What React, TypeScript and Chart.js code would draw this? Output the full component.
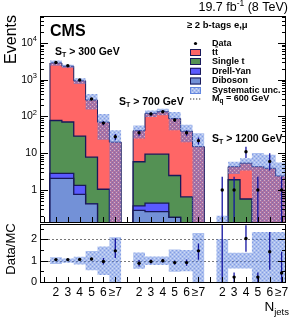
import React, { useEffect, useRef } from 'react';
import { Chart, registerables } from 'chart.js';
Chart.register(...registerables);

// ---------------- data (18 bins: 3 S_T regions x 6 jet bins) ----------------
const jetLabels = ['2', '3', '4', '5', '6', '≥7'];
const regionCuts = ['300', '700', '1200'];
const regionLabelPos = [[55, 52], [119, 102], [212, 139]];

const dataObs = [2950, 2400, 980, 300, 66, 28, 36, 117, 135, 80, 36, 22, 1, 1, 11, 1, 6, 1];
const dataErrLo = [54, 49, 31, 17, 8, 5.3, 6, 11, 11.6, 9, 6, 4.7, 1, 1, 3.6, 1, 2.6, 1];
const dataErrHi = [54, 49, 31, 17, 8, 5.3, 6, 11, 11.6, 9, 6, 4.7, 1.3, 1.3, 4, 1.3, 4, 1.3];

const ttbar = [2770, 2250, 900, 272, 69, 20, 35, 112, 125, 85, 39, 15, 0.1, 2.4, 4.8, 4.2, 3.8, 2.35];
const singleTop = [75, 68, 28, 7.4, 1.05, 0.1, 5.5, 9, 9, 2.3, 0.6, 0.1, 0, 1.9, 0.57, 0.1, 0.1, 0.05];
const drellYan = [0.76, 0.76, 0.58, 0, 0, 0, 0.09, 0.18, 0.18, 0, 0, 0, 0, 0, 0, 0, 0, 0];
const diboson = [2.08, 2.08, 0.76, 0.42, 0, 0, 0.28, 0.26, 0.26, 0.18, 0.05, 0, 0, 0, 0, 0, 0, 0];
const sysRel = [0.16, 0.1, 0.18, 0.45, 0.67, 1.1, 0.38, 0.2, 0.2, 0.52, 0.5, 1.3, 1.0, 0.37, 0.37, 1.35, 1.35, 1.35];

const ratioVals = [1.05, 1.05, 1.06, 1.08, 0.96, 1.46, 0.88, 0.96, 1.0, 0.91, 0.91, 1.46, 10, 0.23, 2.04, 0.23, 1.42, 0.42];
const ratioErrLo = [0.02, 0.02, 0.03, 0.06, 0.14, 0.34, 0.15, 0.09, 0.09, 0.1, 0.15, 0.42, 10, 0.23, 0.62, 0.23, 0.85, 0.42];
const ratioErrHi = [0.02, 0.02, 0.03, 0.06, 0.16, 0.59, 0.15, 0.09, 0.09, 0.1, 0.15, 0.35, 13, 0.22, 0.62, 0.22, 0.93, 1.0];

const yDecades = [0, 1, 2, 3, 4];
const ratioTicks = [0, 1, 2];
const legendLabels = ['Data', 'tt', 'Single t', 'Drell-Yan', 'Diboson', 'Systematic unc.', ' = 600 GeV'];

// ---------------- style ----------------
const C_TT = 'rgb(255,102,102)';
const C_ST = 'rgb(84,145,84)';
const C_DY = 'rgb(90,90,255)';
const C_DB = 'rgb(115,145,215)';
const C_LINE = 'rgb(25,25,90)';
const C_ERR = 'rgb(20,20,160)';
const FONT = '"Liberation Sans", Arial, Helvetica, sans-serif';

const FLOOR = 1e-3;
const X_MIN = -0.84, X_MAX = 19.87;
const Y_MIN = 0.135, Y_MAX = 54000;
const R_MIN = 0, R_MAX = 2.72;

const NB = dataObs.length;
const binLeft = (i: number) => Math.floor(i / 6) * 7 + (i % 6);
const cum = (...arrs: number[][]) => arrs[0].map((_, i) => arrs.reduce((s, a) => s + a[i], 0));

const cDB = diboson;
const cDY = cum(diboson, drellYan);
const cST = cum(diboson, drellYan, singleTop);
const cTT = cum(diboson, drellYan, singleTop, ttbar);

function histPoints(vals: number[]) {
  const pts: any[] = [];
  for (let g = 0; g < 3; g++) {
    const s = g * 7;
    pts.push({ x: s, y: FLOOR });
    for (let j = 0; j < 6; j++) {
      const i = g * 6 + j;
      pts.push({ x: binLeft(i), y: Math.max(vals[i], FLOOR) });
    }
    pts.push({ x: s + 6, y: Math.max(vals[g * 6 + 5], FLOOR) });
    pts.push({ x: s + 6, y: FLOOR });
    pts.push({ x: s + 6.5, y: null });
  }
  return pts;
}
function stepPoints(vals: number[], floor: number) {
  const pts: any[] = [];
  for (let g = 0; g < 3; g++) {
    const s = g * 7;
    for (let j = 0; j < 6; j++) {
      const i = g * 6 + j;
      pts.push({ x: binLeft(i), y: Math.max(vals[i], floor) });
    }
    pts.push({ x: s + 6, y: Math.max(vals[g * 6 + 5], floor) });
    pts.push({ x: s + 6.5, y: null });
  }
  return pts;
}
function errPoints(vals: number[], lo: number[], hi: number[], floor: number) {
  const pts: any[] = [];
  for (let i = 0; i < NB; i++) {
    const c = binLeft(i) + 0.5;
    pts.push({ x: c, y: Math.max(vals[i] - lo[i], floor) });
    pts.push({ x: c, y: vals[i] + hi[i] });
    pts.push({ x: c, y: null });
  }
  return pts;
}
const centerPoints = (vals: number[]) => vals.map((v, i) => ({ x: binLeft(i) + 0.5, y: v }));

function makePattern(): CanvasPattern | string {
  const c = document.createElement('canvas');
  c.width = 4; c.height = 4;
  const p = c.getContext('2d');
  if (!p) return 'rgba(90,130,225,0.5)';
  p.fillStyle = 'rgba(85,125,222,0.5)';
  p.fillRect(0, 0, 4, 4);
  p.fillStyle = 'rgba(255,255,255,0.45)';
  p.fillRect(0, 0, 1, 1); p.fillRect(2, 2, 1, 1);
  p.fillStyle = 'rgba(60,95,210,0.35)';
  p.fillRect(2, 0, 1, 1); p.fillRect(0, 2, 1, 1);
  return p.createPattern(c, 'repeat') || 'rgba(90,130,225,0.5)';
}

type Part = { t: string; f: string; dy?: number };
function drawParts(ctx: CanvasRenderingContext2D, parts: Part[], x: number, y: number, align: 'left' | 'right' | 'center') {
  let w = 0;
  for (const p of parts) { ctx.font = p.f; w += ctx.measureText(p.t).width; }
  let cx = align === 'left' ? x : align === 'right' ? x - w : x - w / 2;
  ctx.textAlign = 'left';
  ctx.textBaseline = 'middle';
  for (const p of parts) {
    ctx.font = p.f;
    ctx.fillText(p.t, cx, y + (p.dy || 0));
    cx += ctx.measureText(p.t).width;
  }
  return w;
}

function lineDs(pts: any[], bg: any, border: string, bw: number, order: number, fill: any) {
  return {
    data: pts, backgroundColor: bg, borderColor: border, borderWidth: bw, order, fill,
    stepped: 'before', pointRadius: 0, spanGaps: false, tension: 0,
    borderJoinStyle: 'miter', borderCapStyle: 'butt',
  };
}

// ---------------- plugins ----------------
const mainDeco = {
  id: 'mainDeco',
  afterDraw(chart: any) {
    const ctx: CanvasRenderingContext2D = chart.ctx;
    const { left, right, top, bottom } = chart.chartArea;
    const xs = chart.scales.x, ys = chart.scales.y;
    ctx.save();
    ctx.strokeStyle = '#000';
    ctx.lineWidth = 1;
    ctx.strokeRect(left + 0.5, top + 0.5, right - left - 1, bottom - top);
    ctx.beginPath();
    for (let d = -1; d <= 4; d++) {
      for (let k = 1; k <= 9; k++) {
        const v = k * Math.pow(10, d);
        if (v < Y_MIN || v > Y_MAX) continue;
        const py = Math.round(ys.getPixelForValue(v)) + 0.5;
        const len = k === 1 ? 8 : 4;
        ctx.moveTo(left, py); ctx.lineTo(left + len, py);
        ctx.moveTo(right, py); ctx.lineTo(right - len, py);
      }
    }
    for (let k = -1; k <= 20; k++) {
      const xv = k + 0.5;
      if (xv < X_MIN || xv > X_MAX) continue;
      const px = Math.round(xs.getPixelForValue(xv)) + 0.5;
      ctx.moveTo(px, bottom); ctx.lineTo(px, bottom - 5);
    }
    ctx.stroke();

    ctx.fillStyle = '#000';
    // y tick labels
    for (const d of yDecades) {
      const py = ys.getPixelForValue(Math.pow(10, d));
      const f = `10.5px ${FONT}`;
      if (d === 0) drawParts(ctx, [{ t: '1', f }], 37, py, 'right');
      else if (d === 1) drawParts(ctx, [{ t: '10', f }], 37, py, 'right');
      else drawParts(ctx, [{ t: '10', f }, { t: String(d), f: `7.5px ${FONT}`, dy: -4 }], 37, py, 'right');
    }
    // Events title
    ctx.save();
    ctx.translate(12, 15);
    ctx.rotate(-Math.PI / 2);
    ctx.font = `16px ${FONT}`;
    ctx.textAlign = 'right';
    ctx.textBaseline = 'middle';
    ctx.fillText('Events', 0, 0);
    ctx.restore();

    // lumi
    drawParts(ctx, [
      { t: '19.7 fb', f: `12.5px ${FONT}` },
      { t: '-1', f: `8.5px ${FONT}`, dy: -4 },
      { t: ' (8 TeV)', f: `12.5px ${FONT}` },
    ], 288, 8, 'right');
    // CMS
    drawParts(ctx, [{ t: 'CMS', f: `bold 16px ${FONT}` }], 50, 32, 'left');
    // category
    drawParts(ctx, [{ t: '≥ 2 b-tags e,μ', f: `bold 9.5px ${FONT}` }], 187, 25, 'left');
    // region labels
    regionCuts.forEach((cut, g) => {
      const [x, y] = regionLabelPos[g];
      drawParts(ctx, [
        { t: 'S', f: `bold 10.5px ${FONT}` },
        { t: 'T', f: `bold 7px ${FONT}`, dy: 3 },
        { t: ` > ${cut} GeV`, f: `bold 10.5px ${FONT}` },
      ], x, y, 'left');
    });

    // legend
    const lx = 190, lw = 11, lh = 7, tx = 212;
    const rowsY = [43.5, 52.5, 61.5, 71.3, 81, 90.5, 99];
    const lf = `bold 9px ${FONT}`;
    // data
    ctx.beginPath(); ctx.arc(lx + 5.5, rowsY[0], 1.6, 0, Math.PI * 2); ctx.fill();
    const boxCols = [C_TT, C_ST, C_DY, C_DB];
    for (let r = 1; r <= 4; r++) {
      ctx.fillStyle = boxCols[r - 1];
      ctx.fillRect(lx, rowsY[r] - lh / 2, lw, lh);
      ctx.strokeStyle = C_LINE; ctx.lineWidth = 1;
      ctx.strokeRect(lx + 0.5, rowsY[r] - lh / 2 + 0.5, lw - 1, lh - 1);
    }
    ctx.fillStyle = chart.$pattern;
    ctx.fillRect(lx, rowsY[5] - lh / 2, lw, lh);
    ctx.strokeStyle = 'rgba(80,120,220,0.8)';
    ctx.strokeRect(lx + 0.5, rowsY[5] - lh / 2 + 0.5, lw - 1, lh - 1);
    ctx.strokeStyle = '#333'; ctx.setLineDash([1.3, 1.7]); ctx.lineWidth = 1.2;
    ctx.beginPath(); ctx.moveTo(lx, rowsY[6]); ctx.lineTo(lx + lw, rowsY[6]); ctx.stroke();
    ctx.setLineDash([]);
    ctx.fillStyle = '#000';
    for (let r = 0; r < 6; r++) {
      const w = drawParts(ctx, [{ t: legendLabels[r], f: lf }], tx, rowsY[r], 'left');
      if (r === 1) {
        ctx.font = lf;
        const w1 = ctx.measureText('t').width;
        ctx.fillRect(tx + w1 + 0.3, rowsY[r] - 6, w - w1 - 0.3, 0.9);
      }
    }
    drawParts(ctx, [
      { t: 'M', f: lf }, { t: 'q', f: `bold 6.5px ${FONT}`, dy: 2.5 }, { t: legendLabels[6], f: lf },
    ], tx, rowsY[6], 'left');
    ctx.restore();
  },
};

const ratioDeco = {
  id: 'ratioDeco',
  beforeDatasetsDraw(chart: any) {
    const ctx: CanvasRenderingContext2D = chart.ctx;
    const { left, right } = chart.chartArea;
    const ys = chart.scales.y;
    ctx.save();
    ctx.strokeStyle = '#777'; ctx.lineWidth = 1; ctx.setLineDash([2, 2]);
    ctx.beginPath();
    for (const v of [1, 2]) {
      const py = Math.round(ys.getPixelForValue(v)) + 0.5;
      ctx.moveTo(left, py); ctx.lineTo(right, py);
    }
    ctx.stroke();
    ctx.restore();
  },
  afterDraw(chart: any) {
    const ctx: CanvasRenderingContext2D = chart.ctx;
    const { left, right, top, bottom } = chart.chartArea;
    const xs = chart.scales.x, ys = chart.scales.y;
    ctx.save();
    ctx.strokeStyle = '#000'; ctx.lineWidth = 1;
    ctx.strokeRect(left + 0.5, top + 0.5, right - left - 1, bottom - top);
    ctx.beginPath();
    for (let v = 0; v <= R_MAX; v += 0.5) {
      const py = Math.round(ys.getPixelForValue(v)) + 0.5;
      const len = Math.abs(v - Math.round(v)) < 1e-6 ? 8 : 4;
      ctx.moveTo(left, py); ctx.lineTo(left + len, py);
      ctx.moveTo(right, py); ctx.lineTo(right - len, py);
    }
    for (let k = -1; k <= 20; k++) {
      const xv = k + 0.5;
      if (xv < X_MIN || xv > X_MAX) continue;
      const px = Math.round(xs.getPixelForValue(xv)) + 0.5;
      ctx.moveTo(px, bottom); ctx.lineTo(px, bottom - 5);
    }
    ctx.stroke();
    ctx.fillStyle = '#000';
    for (const v of ratioTicks) {
      drawParts(ctx, [{ t: String(v), f: `11px ${FONT}` }], 37, ys.getPixelForValue(v), 'right');
    }
    for (let i = 0; i < NB; i++) {
      const px = xs.getPixelForValue(binLeft(i) + 0.5);
      drawParts(ctx, [{ t: jetLabels[i % 6], f: `12px ${FONT}` }], px, 293, 'center');
    }
    drawParts(ctx, [{ t: 'N', f: `13.5px ${FONT}` }, { t: 'jets', f: `9.5px ${FONT}`, dy: 5 }], 289, 307, 'right');
    ctx.save();
    ctx.translate(11, 249);
    ctx.rotate(-Math.PI / 2);
    ctx.font = `13px ${FONT}`;
    ctx.textAlign = 'center';
    ctx.textBaseline = 'middle';
    ctx.fillText('Data/MC', 0, 0);
    ctx.restore();
    ctx.restore();
  },
};

function baseOptions(padding: any, yScale: any) {
  return {
    animation: false, responsive: false, maintainAspectRatio: false, devicePixelRatio: 1,
    layout: { padding },
    plugins: { legend: { display: false }, tooltip: { enabled: false } },
    scales: { x: { type: 'linear', min: X_MIN, max: X_MAX, display: false }, y: yScale },
    elements: { point: { radius: 0 } },
  };
}

export default function App() {
  const mainRef = useRef<HTMLCanvasElement>(null);
  const ratioRef = useRef<HTMLCanvasElement>(null);
  useEffect(() => {
    const pattern = makePattern();
    const total = cTT;
    const bandHi = total.map((t, i) => (t > 0 ? t * (1 + sysRel[i]) : 0));
    const bandLo = total.map((t, i) => (t > 0 ? t * (1 - sysRel[i]) : 0));

    const mainDatasets: any[] = [
      { data: centerPoints(dataObs), showLine: false, pointRadius: 1.7, pointBackgroundColor: '#000', pointBorderWidth: 0, order: 0 },
      { ...lineDs(errPoints(dataObs, dataErrLo, dataErrHi, FLOOR), 'transparent', C_ERR, 1.3, 1, false), stepped: false },
      lineDs(stepPoints(bandHi, FLOOR), pattern, 'transparent', 0, 2, '+1'),
      lineDs(stepPoints(bandLo, FLOOR), 'transparent', 'transparent', 0, 3, false),
      lineDs(histPoints(cDB), C_DB, C_LINE, 1.3, 4, 'start'),
      lineDs(histPoints(cDY), C_DY, C_LINE, 1.3, 5, 'start'),
      lineDs(histPoints(cST), C_ST, C_LINE, 1.3, 6, 'start'),
      lineDs(histPoints(cTT), C_TT, C_LINE, 1.0, 7, 'start'),
    ];
    const main = new Chart(mainRef.current as HTMLCanvasElement, {
      type: 'line',
      data: { datasets: mainDatasets },
      options: baseOptions({ left: 40, right: 3, top: 16, bottom: 97 },
        { type: 'logarithmic', min: Y_MIN, max: Y_MAX, display: false }) as any,
      plugins: [mainDeco],
    } as any);
    (main as any).$pattern = pattern;
    main.draw();

    const rHi = sysRel.map((r, i) => (total[i] > 0 ? 1 + r : 0));
    const rLo = sysRel.map((r, i) => (total[i] > 0 ? Math.max(1 - r, 0) : 0));
    const ratioDatasets: any[] = [
      { data: centerPoints(ratioVals), showLine: false, pointRadius: 1.7, pointBackgroundColor: '#000', pointBorderWidth: 0, order: 0 },
      { ...lineDs(errPoints(ratioVals, ratioErrLo, ratioErrHi, -1), 'transparent', C_ERR, 1.3, 1, false), stepped: false },
      lineDs(stepPoints(rHi, -1), pattern, 'transparent', 0, 2, '+1'),
      lineDs(stepPoints(rLo, -1), 'transparent', 'transparent', 0, 3, false),
    ];
    const ratio = new Chart(ratioRef.current as HTMLCanvasElement, {
      type: 'line',
      data: { datasets: ratioDatasets },
      options: baseOptions({ left: 40, right: 3, top: 224, bottom: 37 },
        { type: 'linear', min: R_MIN, max: R_MAX, display: false }) as any,
      plugins: [ratioDeco],
    } as any);
    return () => { main.destroy(); ratio.destroy(); };
  }, []);
  return (
    <div style={{ position: 'fixed', left: 0, top: 0, width: 290, height: 319, background: '#fff' }}>
      <canvas ref={mainRef} width={290} height={319} style={{ position: 'absolute', left: 0, top: 0 }} />
      <canvas ref={ratioRef} width={290} height={319} style={{ position: 'absolute', left: 0, top: 0 }} />
    </div>
  );
}
